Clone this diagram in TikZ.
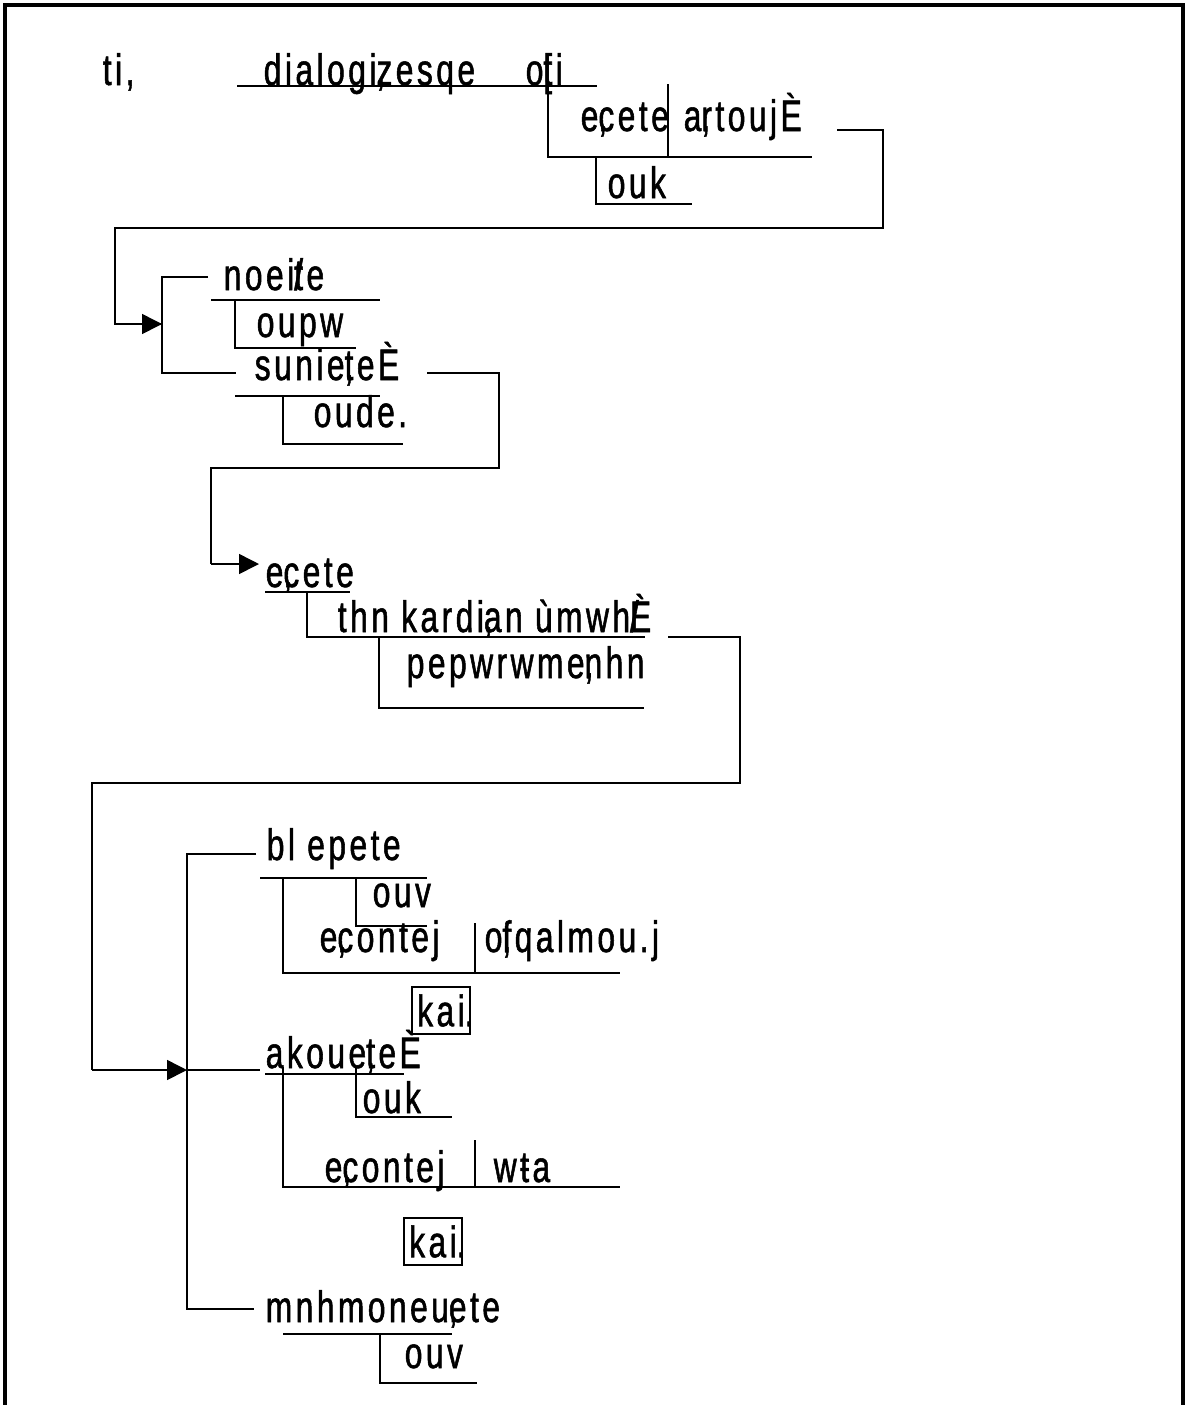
\documentclass[tikz,border=0pt]{standalone}
\usepackage{fontspec}
\newfontfamily\greekish[FakeStretch=0.72,LetterSpace=8,FakeBold=1.2]{Liberation Sans}
\usetikzlibrary{arrows.meta}

\begin{document}
\begin{tikzpicture}[
    x=0.5pt, y=-0.5pt,
    line width=0.8pt,
    >={Triangle[length=10pt,width=10pt]},
    word/.style={
      anchor=base west,
      inner sep=0pt,
      font=\greekish\fontsize{22pt}{25pt}\selectfont,
    },
    conj/.style={
      draw,
      inner sep=0pt,
      minimum width=29pt,
      minimum height=23.5pt,
      font=\greekish\fontsize{22pt}{25pt}\selectfont,
    },
  ]
  \useasboundingbox (0,0) rectangle (1186,1405);

  % frame
  \draw[line width=2pt] (5,1405) -- (5,5) -- (1183,5) -- (1183,1405);

  % first clause
  \node[word] (ti) at (102,85) {ti,};
  \node[word] (dialog) at (263,85) {dialogi\rlap{,}zesqe};
  \node[word] (oti) at (525,85) {o\rlap{[}ti};
  \node[word] (ecete) at (580,131) {e\rlap{,}cete};
  \node[word] (artous) at (683,131) {a\rlap{,}rtoujÈ};
  \node[word] (ouk) at (607,198) {ouk};
  \draw (237,86) -- (597,86);
  \draw (548,86) -- (548,157) -- (812,157);
  \draw (668,84) -- (668,157);
  \draw (596,157) -- (596,204) -- (692,204);

  % second clause
  \coordinate (spine1) at (162,324);
  \node[word] (noeite) at (223,290) {noei\rlap{/}te};
  \node[word] (oupw) at (256,337) {oupw};
  \node[word] (suniete) at (254,380) {sunie\rlap{,}teÈ};
  \node[word] (oude) at (313,427) {oude.};
  \draw (837,130) -- (883,130) -- (883,228) -- (115,228) |- (spine1);
  \draw[->] (115,324) -- (spine1);
  \draw (208,277) -- (162,277) -- (162,373) -- (236,373);
  \draw (211,300) -- (380,300);
  \draw (235,300) -- (235,348) -- (356,348);
  \draw (235,396) -- (380,396);
  \draw (283,396) -- (283,444) -- (403,444);

  % third clause
  \coordinate (spine2) at (259,564);
  \node[word] (ecete2) at (265,587) {e\rlap{,}cete};
  \node[word] (kardian) at (337,632) {thn kardi\rlap{,}an ùmwh\rlap{/}È};
  \node[word] (pepwr) at (406,678) {pepwrwme\rlap{,}nhn};
  \draw (427,373) -- (499,373) -- (499,468) -- (211,468) -- (211,564);
  \draw[->] (211,564) -- (spine2);
  \draw (265,592) -- (350,592);
  \draw (307,592) -- (307,637) -- (645,637);
  \draw (379,637) -- (379,708) -- (644,708);

  % fourth clause
  \coordinate (spine3) at (187,1070);
  \node[word] (blepete) at (266,860) {bl epete};
  \node[word] (ouv) at (372,907) {ouv};
  \node[word] (econtes) at (319,952) {e\rlap{,}contej};
  \node[word] (ofqal) at (484,952) {o\rlap{,}fqalmou.j};
  \node[conj] (kai1) at (441,1010.5) {kai\rlap{.}};
  \node[word] (akouete) at (265,1068) {akoue\rlap{,}teÈ};
  \node[word] (ouk2) at (362,1113) {ouk};
  \node[word] (econtes2) at (324,1182) {e\rlap{,}contej};
  \node[word] (wta) at (493,1182) {wŧa};
  \node[conj] (kai2) at (433,1241.5) {kai\rlap{.}};
  \node[word] (mnhmon) at (265,1322) {mnhmoneu\rlap{,}ete};
  \node[word] (ouv2) at (404,1368) {ouv};
  \draw (668,637) -- (740,637) -- (740,783) -- (92,783) -- (92,1070);
  \draw[->] (92,1070) -- (spine3);
  \draw (256,854) -- (187,854) -- (187,1309) -- (254,1309);
  \draw (spine3) -- (260,1070);
  \draw (260,878) -- (427,878);
  \draw (356,878) -- (356,926) -- (427,926);
  \draw (283,878) -- (283,973) -- (620,973);
  \draw (475,923) -- (475,973);
  \draw (265,1074) -- (404,1074);
  \draw (283,1067) -- (283,1187) -- (620,1187);
  \draw (356,1067) -- (356,1117) -- (452,1117);
  \draw (475,1140) -- (475,1187);
  \draw (283,1334) -- (452,1334);
  \draw (380,1334) -- (380,1383) -- (477,1383);
\end{tikzpicture}
\end{document}
